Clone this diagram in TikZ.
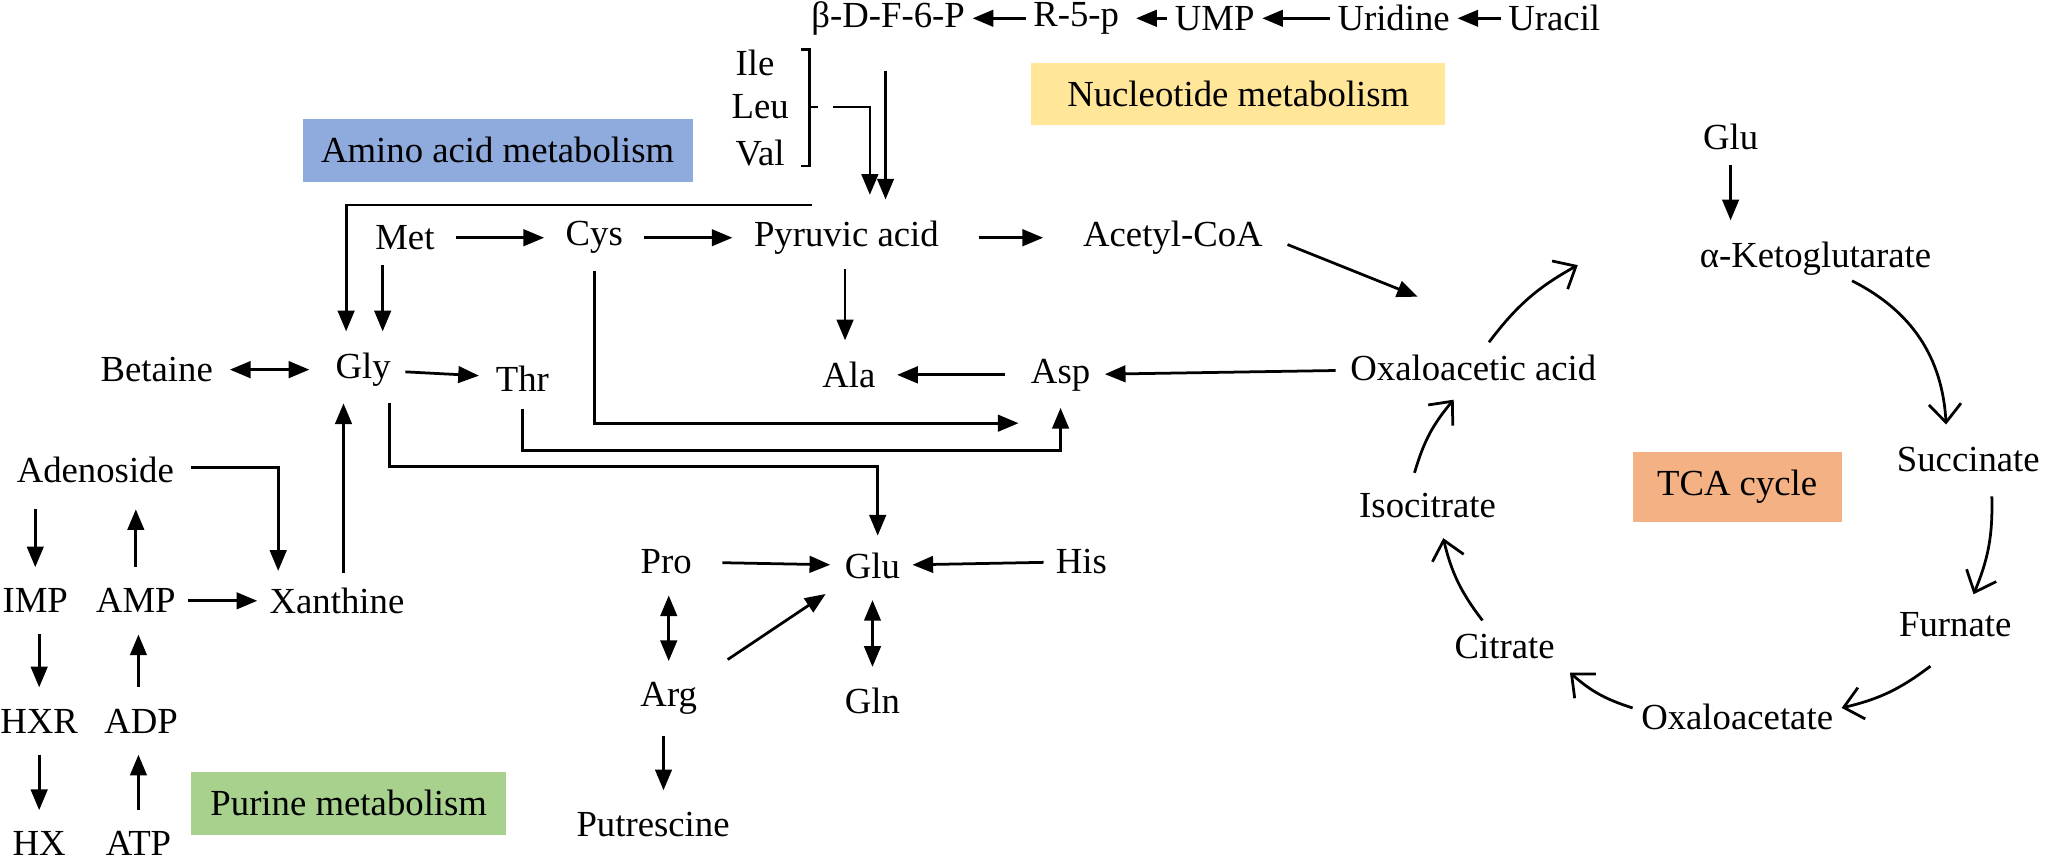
\documentclass[tikz,border=0pt]{standalone}
\usepackage{fontspec}
\setmainfont{Liberation Serif}
\usetikzlibrary{arrows.meta}
\begin{document}
\begin{tikzpicture}[x=0.01cm,y=-0.01cm,
  every node/.style={font=\fontsize{8pt}{9pt}\selectfont,inner sep=1.5pt},
  arr/.style={line width=0.6pt,-{Triangle[length=4.5pt,width=3.6pt]},shorten >=1.5pt,shorten <=1.5pt},
  darr/.style={line width=0.6pt,{Triangle[length=4.5pt,width=3.6pt]}-{Triangle[length=4.5pt,width=3.6pt]},shorten >=1.5pt,shorten <=1.5pt},
  ln/.style={line width=0.6pt},
  tca/.style={line width=0.6pt,-{Straight Barb[length=4pt,width=7pt]}},
  lbl/.style={font=\fontsize{8pt}{9pt}\selectfont,minimum height=0.44cm,inner sep=4pt}]
\useasboundingbox (0,0) rectangle (1568,660);
% colored labels
\node[lbl,fill={rgb,255:red,255;green,230;blue,153},minimum width=3.17cm] (nuc) at (948,72) {Nucleotide metabolism};
\node[lbl,fill={rgb,255:red,143;green,170;blue,220},minimum width=2.98cm] (ami) at (381,115) {Amino acid metabolism};
\node[lbl,fill={rgb,255:red,244;green,177;blue,131},minimum width=1.6cm] (tcab) at (1330,373) {TCA cycle};
\node[lbl,fill={rgb,255:red,169;green,209;blue,142},minimum width=2.41cm] (pur) at (267,615) {Purine metabolism};
% nodes
\node (bdf) at (680,14) {β-D-F-6-P};
\node (r5p) at (824,14) {R-5-p};
\node (ump) at (930,14) {UMP};
\node (uri) at (1067,14) {Uridine};
\node (ura) at (1190,14) {Uracil};
\node (ile) at (578,48) {Ile};
\node (leu) at (582,82) {Leu};
\node (val) at (582,117) {Val};
\node (met) at (310,182) {Met};
\node (cys) at (455,182) {Cys};
\node (pyr) at (648,182) {Pyruvic acid};
\node (acc) at (898,182) {Acetyl-CoA};
\node (glut) at (1325,105) {Glu};
\node (akg) at (1390,198) {α-Ketoglutarate};
\node (bet) at (120,283) {Betaine};
\node (gly) at (278,283) {Gly};
\node (thr) at (400,290) {Thr};
\node (ala) at (650,287) {Ala};
\node (asp) at (812,287) {Asp};
\node (oxa) at (1128,282) {Oxaloacetic acid};
\node (suc) at (1507,352) {Succinate};
\node (iso) at (1093,387) {Isocitrate};
\node (cit) at (1152,495) {Citrate};
\node (fur) at (1497,478) {Furnate};
\node (oxt) at (1330,549) {Oxaloacetate};
\node (ade) at (73,360) {Adenoside};
\node (imp) at (27,460) {IMP};
\node (amp) at (104,460) {AMP};
\node (xan) at (258,460) {Xanthine};
\node (hxr) at (30,552) {HXR};
\node (adp) at (108,552) {ADP};
\node (hx) at (30,646) {HX};
\node (atp) at (106,646) {ATP};
\node (pro) at (510,430) {Pro};
\node (glu) at (668,433) {Glu};
\node (his) at (828,430) {His};
\node (arg) at (512,535) {Arg};
\node (gln) at (668,537) {Gln};
\node (put) at (500,631) {Putrescine};
% top chain
\draw[arr,shorten >=0pt,shorten <=0pt] (r5p) -- (bdf);
\draw[arr,shorten >=2pt,shorten <=0pt] (ump) -- (r5p);
\draw[arr,shorten >=0pt,shorten <=0pt] (uri) -- (ump);
\draw[arr,shorten >=0pt,shorten <=0pt] (ura) -- (uri);
\draw[arr,shorten <=6pt,shorten >=3pt] (bdf.south -| 678,0) -- (pyr.north -| 678,0);
% bracket
\draw[ln] (613,38) -- (620,38) -- (620,127) -- (613,127);
\draw[ln] (620,82) -- (626,82);
\coordinate (lb) at (638,82);
\draw[arr,shorten <=0pt,shorten >=4pt] (lb) -- (666,82) -- (pyr.north -| 666,0);
% big line to Gly
\coordinate (tl) at (622,157);
\draw[arr,shorten <=0pt,shorten >=3pt] (tl) -- (265,157) -- (gly.north -| 265,0);
\draw[arr,shorten >=3pt] (met.south -| 293,0) -- (gly.north -| 293,0);
\draw[arr,shorten <=3pt,shorten >=3pt] (met) -- (cys);
\draw[arr,shorten <=3pt,shorten >=3pt] (cys) -- (pyr);
\draw[arr,shorten <=7pt,shorten >=7pt] (pyr) -- (acc);
\draw[arr,shorten <=4pt,shorten >=6pt] (acc.east) -- (1105,235);
\draw[arr,shorten >=3pt] (glut) -- (akg.north -| glut);
\draw[arr,shorten >=3pt] (pyr.south -| 647,0) -- (ala.north -| 647,0);
\draw[darr,shorten <=2pt,shorten >=4pt] (bet) -- (gly);
\draw[arr,shorten >=2pt] (gly) -- (thr.west |- 288,288);
\draw[arr,shorten <=4pt,shorten >=3pt] (asp) -- (ala);
\draw[arr] (oxa) -- (asp);
\draw[arr,shorten <=2pt,shorten >=1pt] (cys.south) -- (455,324) -- (asp.south west |- 0,324);
\draw[arr,shorten <=2pt,shorten >=2pt] (thr.south) -- (400,345) -- (812,345) -- (asp.south);
\draw[arr,shorten <=2pt,shorten >=2pt] (gly.south -| 298,0) -- (298,357) -- (672,357) -- (glu.north -| 672,0);
% purine
\draw[arr,shorten <=2pt,shorten >=2pt] (ade.east |- 0,358) -- (213,358) -- (xan.north -| 213,0);
\draw[arr,shorten >=2pt] (xan.north -| 263,0) -- (gly.south -| 263,0);
\draw[arr,shorten <=1pt,shorten >=1pt] (amp) -- (xan);
\draw[arr,shorten >=3pt,shorten <=4pt] (ade.south -| 27,0) -- (imp);
\draw[arr,shorten >=4pt,shorten <=3pt] (amp.north -| 104,0) -- (ade.south -| 104,0);
\draw[arr,shorten >=3pt,shorten <=3pt] (imp.south -| 30,0) -- (hxr);
\draw[arr,shorten >=3pt,shorten <=3pt] (adp.north -| 106,0) -- (amp.south -| 106,0);
\draw[arr,shorten >=3pt,shorten <=3pt] (hxr) -- (hx);
\draw[arr,shorten >=3pt,shorten <=3pt] (atp.north -| 106,0) -- (adp.south -| 106,0);
% glu area
\draw[arr,shorten <=5pt] (pro) -- (glu);
\draw[arr,shorten >=1pt,shorten <=1pt] (his) -- (glu);
\draw[darr,shorten >=3pt,shorten <=3pt] (pro.south -| 512,0) -- (arg.north -| 512,0);
\draw[arr,shorten <=6pt,shorten >=3pt] (arg.north east) -- (glu.south west);
\draw[darr,shorten >=3pt,shorten <=3pt] (glu) -- (gln);
\draw[arr,shorten >=3pt,shorten <=3pt] (arg.south -| 508,0) -- (put.north -| 508,0);
% TCA cycle
\draw[tca] (1140,262) to[bend left=12] (1208,203);
\draw[tca] (1418,215) to[bend left=30] (1490,325);
\draw[tca] (1525,380) to[bend left=12] (1511,455);
\draw[tca] (1478,510) to[bend left=12] (1410,542);
\draw[tca] (1250,542) to[bend left=12] (1202,515);
\draw[tca] (1135,475) to[bend left=12] (1105,412);
\draw[tca] (1083,362) to[bend left=12] (1113,306);
\end{tikzpicture}
\end{document}
